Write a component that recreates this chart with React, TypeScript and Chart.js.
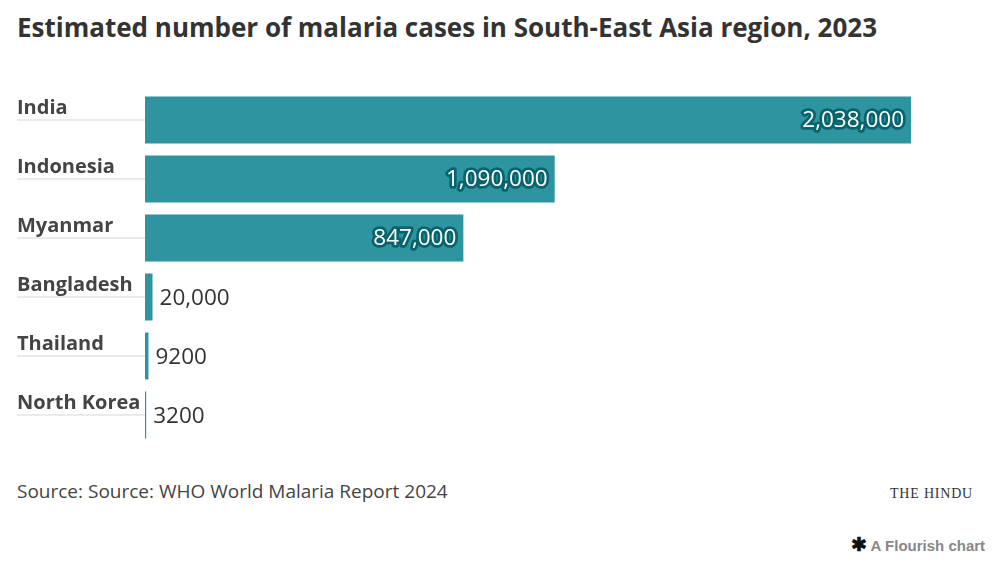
import React, { useEffect, useRef } from "react";
import Chart from "chart.js/auto";

const countries = ["India", "Indonesia", "Myanmar", "Bangladesh", "Thailand", "North Korea"];
const cases = [2038000, 1090000, 847000, 20000, 9200, 3200];
const valueLabels = ["2,038,000", "1,090,000", "847,000", "20,000", "9200", "3200"];

const TITLE = "Estimated number of malaria cases in South-East Asia region, 2023";
const SOURCE = "Source: Source: WHO World Malaria Report 2024";
const BAR_COLOR = "#2e94a0";
const FONT = "'Open Sans', Lato, sans-serif";

const rowLabelsPlugin = {
  id: "rowLabels",
  afterDatasetsDraw(chart: any) {
    const ctx = chart.ctx;
    const meta = chart.getDatasetMeta(0);
    meta.data.forEach((bar: any, i: number) => {
      const y = bar.y;
      const x = bar.x;
      const base = bar.base;
      ctx.save();
      ctx.strokeStyle = "#ebebeb";
      ctx.lineWidth = 2;
      ctx.beginPath();
      ctx.moveTo(17, y);
      ctx.lineTo(base, y);
      ctx.stroke();
      ctx.font = `bold 20px ${FONT}`;
      ctx.fillStyle = "#444";
      ctx.textAlign = "left";
      ctx.textBaseline = "alphabetic";
      ctx.fillText(countries[i], 17, y - 6);

      ctx.font = `22.5px ${FONT}`;
      const label = valueLabels[i];
      const w = ctx.measureText(label).width;
      if (x - base > w + 16) {
        ctx.textAlign = "right";
        ctx.lineJoin = "round";
        ctx.lineWidth = 5.5;
        ctx.strokeStyle = "#08646c";
        ctx.strokeText(label, x - 7, y + 7);
        ctx.fillStyle = "#ffffff";
        ctx.fillText(label, x - 7, y + 7);
      } else {
        ctx.textAlign = "left";
        ctx.fillStyle = "#333";
        ctx.fillText(label, x + 7, y + 7.5);
      }
      ctx.restore();
    });
  },
};

export default function App() {
  const canvasRef = useRef<HTMLCanvasElement>(null);

  useEffect(() => {
    if (!canvasRef.current) return;
    const chart = new Chart(canvasRef.current, {
      type: "bar",
      data: {
        labels: countries,
        datasets: [
          {
            data: cases,
            backgroundColor: BAR_COLOR,
            borderWidth: 0,
            categoryPercentage: 1,
            barPercentage: 0.8,
          },
        ],
      },
      options: {
        indexAxis: "y",
        responsive: false,
        animation: false,
        devicePixelRatio: 1,
        layout: { padding: { left: 145, right: 87, top: 10.5, bottom: 15.5 } },
        scales: {
          x: { display: false, min: 0, max: 2038000 },
          y: { display: false },
        },
        plugins: {
          legend: { display: false },
          tooltip: { enabled: false },
        },
      },
      plugins: [rowLabelsPlugin],
    });
    return () => chart.destroy();
  }, []);

  return (
    <div
      style={{
        position: "absolute",
        left: 0,
        top: 0,
        width: 998,
        height: 566,
        background: "#fff",
        overflow: "hidden",
      }}
    >
      <div
        style={{
          position: "absolute",
          left: 17,
          top: 9,
          fontFamily: FONT,
          fontWeight: 700,
          fontSize: 26,
          lineHeight: "normal",
          color: "#333",
          whiteSpace: "nowrap",
        }}
      >
        {TITLE}
      </div>
      <canvas
        ref={canvasRef}
        width={998}
        height={380}
        style={{ position: "absolute", left: 0, top: 80, width: 998, height: 380 }}
      />
      <div
        style={{
          position: "absolute",
          left: 17,
          top: 478,
          fontFamily: FONT,
          fontSize: 19,
          lineHeight: "normal",
          color: "#444",
          whiteSpace: "nowrap",
        }}
      >
        {SOURCE}
      </div>
      <div
        style={{
          position: "absolute",
          left: 890,
          top: 486,
          fontFamily: "'Liberation Serif', 'DejaVu Serif', serif",
          fontSize: 14,
          color: "#333",
          whiteSpace: "nowrap",
          letterSpacing: 0.8,
        }}
      >
        THE HINDU
      </div>
      <div
        style={{
          position: "absolute",
          left: 851,
          top: 537,
          fontFamily: "'Liberation Sans', Arial, sans-serif",
          fontSize: 15,
          fontWeight: 700,
          color: "#888",
          whiteSpace: "nowrap",
        }}
      >
        <span style={{ color: "#111", fontSize: 19, lineHeight: "15px" }}>✱</span> A Flourish chart
      </div>
    </div>
  );
}
